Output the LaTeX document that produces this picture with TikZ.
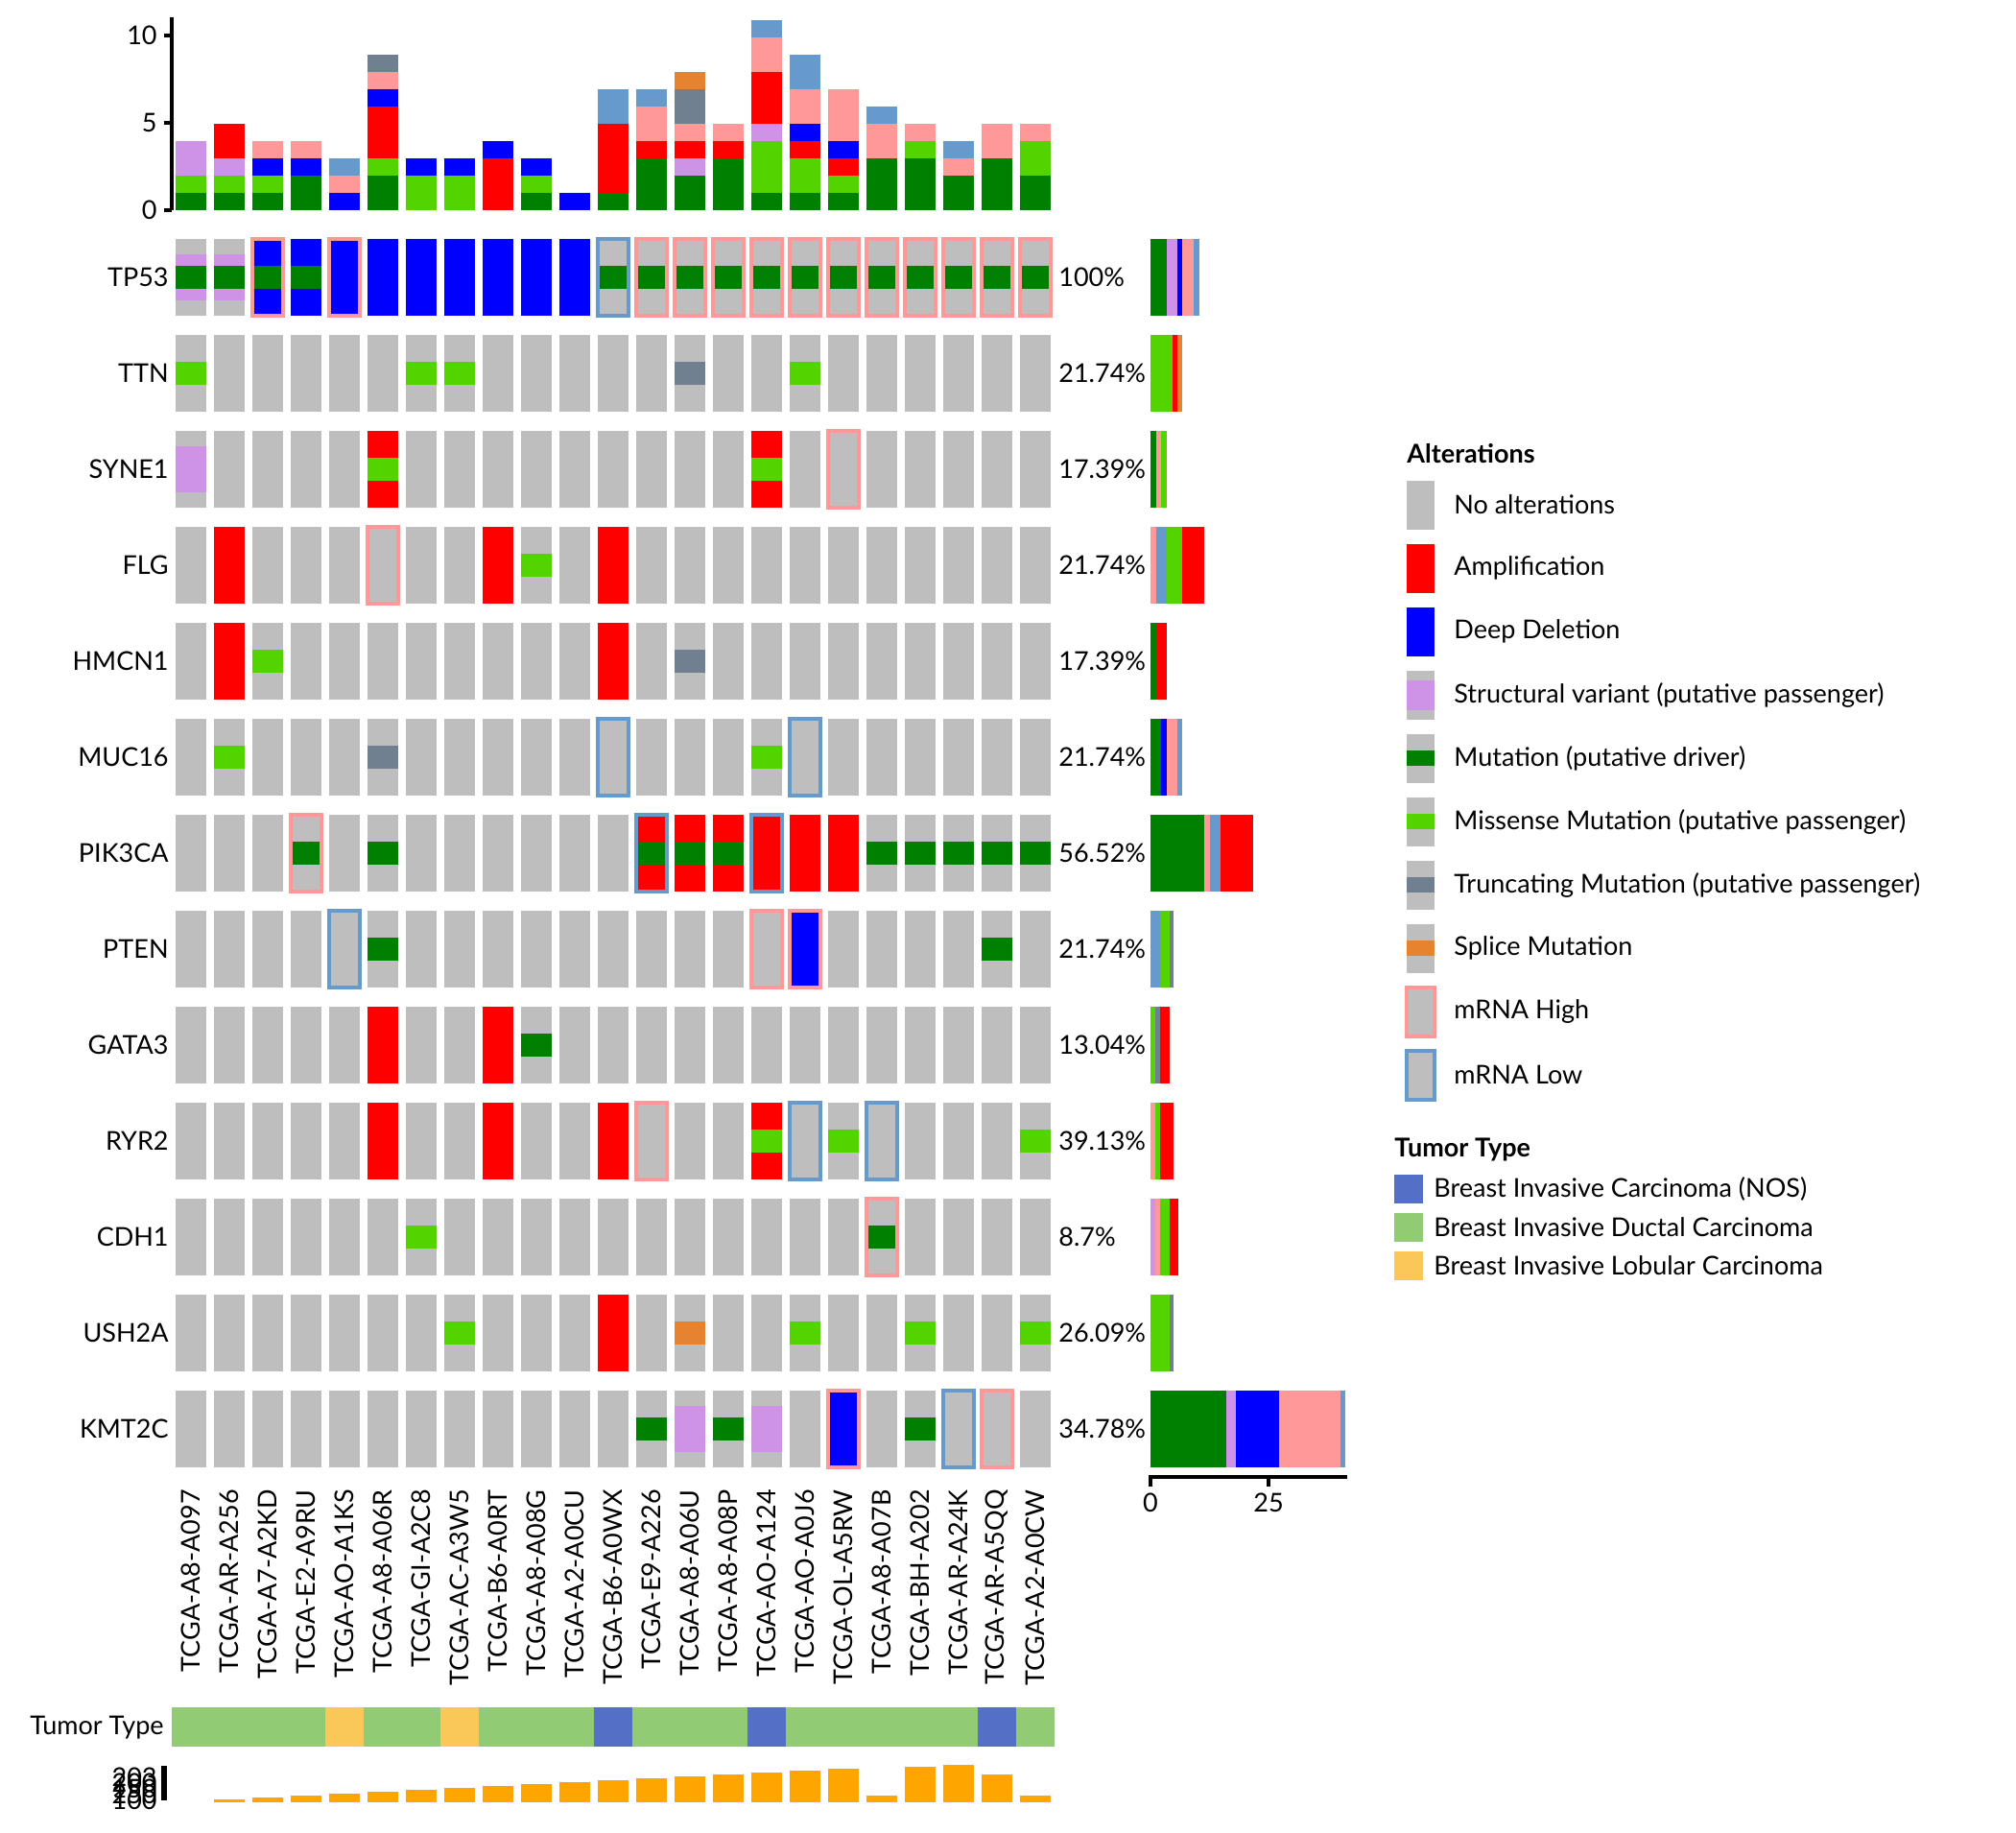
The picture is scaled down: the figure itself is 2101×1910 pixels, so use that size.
\documentclass[tikz,border=0pt]{standalone}
\usepackage{fontspec}
\setmainfont{Lato}
\definecolor{cG}{HTML}{BEBEBE}
\definecolor{cM}{HTML}{008000}
\definecolor{cS}{HTML}{53D400}
\definecolor{cSV}{HTML}{CE93E6}
\definecolor{cA}{HTML}{FF0000}
\definecolor{cD}{HTML}{0000FF}
\definecolor{cH}{HTML}{FF9999}
\definecolor{cL}{HTML}{6699CC}
\definecolor{cT}{HTML}{708090}
\definecolor{cP}{HTML}{E6832E}
\definecolor{tN}{HTML}{5470C6}
\definecolor{tD}{HTML}{91CC75}
\definecolor{tL}{HTML}{FAC858}
\definecolor{cO}{HTML}{FFA500}
\newcommand\stk[2]{\gdef\acc{0}%
 \foreach \cl/\n in {#2}{%
   \fill[fill=c\cl] ({183+40*#1},{219-18*\acc}) rectangle ({215+40*#1},{219-18*(\acc+\n)});
   \pgfmathsetmacro\tmpv{\acc+\n}\xdef\acc{\tmpv}}}
\newcommand\sbar[2]{\gdef\acc{1199}%
 \foreach \cl/\n in {#2}{%
   \fill[fill=c\cl] ({\acc},{249+100*#1}) rectangle ({\acc+0.856*\n},{329+100*#1});
   \pgfmathsetmacro\tmpv{\acc+0.856*\n}\xdef\acc{\tmpv}}}
\tikzset{lab/.style={font=\fontsize{13.5}{16}\selectfont, inner sep=0pt},
 hd/.style={font=\fontsize{13.5}{16}\selectfont\bfseries, inner sep=0pt, anchor=west}}
\begin{document}
\begin{tikzpicture}[x=0.5pt,y=-0.5pt]
\useasboundingbox (0,0) rectangle (2101,1910);
% top bar chart
\stk{0}{M/1,S/1,SV/2}
\stk{1}{M/1,S/1,SV/1,A/2}
\stk{2}{M/1,S/1,D/1,H/1}
\stk{3}{M/2,D/1,H/1}
\stk{4}{D/1,H/1,L/1}
\stk{5}{M/2,S/1,A/3,D/1,H/1,T/1}
\stk{6}{S/2,D/1}
\stk{7}{S/2,D/1}
\stk{8}{A/3,D/1}
\stk{9}{M/1,S/1,D/1}
\stk{10}{D/1}
\stk{11}{M/1,A/4,L/2}
\stk{12}{M/3,A/1,H/2,L/1}
\stk{13}{M/2,SV/1,A/1,H/1,T/2,P/1}
\stk{14}{M/3,A/1,H/1}
\stk{15}{M/1,S/3,SV/1,A/3,H/2,L/1}
\stk{16}{M/1,S/2,A/1,D/1,H/2,L/2}
\stk{17}{M/1,S/1,A/1,D/1,H/3}
\stk{18}{M/3,H/2,L/1}
\stk{19}{M/3,S/1,H/1}
\stk{20}{M/2,H/1,L/1}
\stk{21}{M/3,H/2}
\stk{22}{M/2,S/2,H/1}
\draw[line width=2pt] (179,18) -- (179,219);
\foreach \v/\yy in {0/219,5/128,10/37}{
  \draw[line width=2pt] (171,\yy) -- (179,\yy);
  \node[lab,anchor=east] (ax\v) at (164,\yy) {\v};}
% matrix
\foreach \c in {0,...,22}{\foreach \r in {0,...,12}{
  \fill[cG] ({183+40*\c},{249+100*\r}) rectangle ++(32,80);}}
\foreach \c/\r in {5/2,15/2,1/3,8/3,11/3,1/4,11/4,12/6,13/6,14/6,15/6,16/6,17/6,5/8,8/8,5/9,8/9,11/9,15/9,11/11}
  \fill[cA] ({183+40*\c},{249+100*\r}) rectangle ++(32,80);
\foreach \c/\r in {2/0,3/0,4/0,5/0,6/0,7/0,8/0,9/0,10/0,16/7,17/12}
  \fill[cD] ({183+40*\c},{249+100*\r}) rectangle ++(32,80);
\foreach \c/\r in {0/0,1/0,0/2,13/12,15/12}
  \fill[cSV] ({183+40*\c},{265+100*\r}) rectangle ++(32,48);
\foreach \c/\r in {0/0,1/0,2/0,3/0,11/0,12/0,13/0,14/0,15/0,16/0,17/0,18/0,19/0,20/0,21/0,22/0,3/6,5/6,12/6,13/6,14/6,18/6,19/6,20/6,21/6,22/6,5/7,21/7,9/8,18/10,12/12,14/12,19/12}
  \fill[cM] ({183+40*\c},{277+100*\r}) rectangle ++(32,24);
\foreach \c/\r in {0/1,6/1,7/1,16/1,5/2,15/2,9/3,2/4,1/5,15/5,15/9,17/9,22/9,6/10,7/11,16/11,19/11,22/11}
  \fill[cS] ({183+40*\c},{277+100*\r}) rectangle ++(32,24);
\foreach \c/\r in {13/1,13/4,5/5}
  \fill[cT] ({183+40*\c},{277+100*\r}) rectangle ++(32,24);
\fill[cP] ({183+40*13},{277+100*11}) rectangle ++(32,24);
\foreach \c/\r in {2/0,4/0,12/0,13/0,14/0,15/0,16/0,17/0,18/0,19/0,20/0,21/0,22/0,17/2,5/3,3/6,15/7,16/7,12/9,18/10,17/12,21/12}
  \draw[cH,line width=2pt] ({183+40*\c},{249+100*\r}) rectangle ++(32,80);
\foreach \c/\r in {11/0,11/5,16/5,12/6,15/6,4/7,16/9,18/9,20/12}
  \draw[cL,line width=2pt] ({183+40*\c},{249+100*\r}) rectangle ++(32,80);
% gene labels and percentages
\foreach \g/\p [count=\r from 0] in {TP53/100\%,TTN/21.74\%,SYNE1/17.39\%,FLG/21.74\%,HMCN1/17.39\%,MUC16/21.74\%,PIK3CA/56.52\%,PTEN/21.74\%,GATA3/13.04\%,RYR2/39.13\%,CDH1/8.7\%,USH2A/26.09\%,KMT2C/34.78\%}{
  \node[lab,anchor=east] (g\r) at (176,{289+100*\r}) {\g};
  \node[lab,anchor=west] (p\r) at (1103,{289+100*\r}) {\p};}
% side bars
\sbar{0}{M/20.1,SV/12.1,D/6.7,H/13.4,L/6.7}
\sbar{1}{S/26.8,A/5.4,P/6.7}
\sbar{2}{M/6.7,H/6.7,S/6.7}
\sbar{3}{H/6.7,L/13.4,S/18.8,A/26.8}
\sbar{4}{M/6.7,A/13.4}
\sbar{5}{M/13.4,D/6.7,H/12.1,L/6.7}
\sbar{6}{M/65.6,H/6.7,L/13.4,A/38.8}
\sbar{7}{L/11.9,S/11.9,T/4.7}
\sbar{8}{S/5.9,T/5.9,A/11.9}
\sbar{9}{H/5.9,S/5.9,A/16.6}
\sbar{10}{SV/5.9,H/5.9,S/11.9,A/10.7}
\sbar{11}{S/23.7,T/4.7}
\sbar{12}{M/92.5,SV/11.9,D/52.2,H/74.7,L/5.9}
\draw[line width=2pt] (1199,1549) -- (1199,1539) -- (1404,1539);
\draw[line width=2pt] (1322,1539) -- (1322,1549);
\node[lab,anchor=north] (s0) at (1199,1556) {0};
\node[lab,anchor=north] (s25) at (1322,1556) {25};
% sample labels
\foreach \s [count=\c from 0] in {TCGA-A8-A097,TCGA-AR-A256,TCGA-A7-A2KD,TCGA-E2-A9RU,TCGA-AO-A1KS,TCGA-A8-A06R,TCGA-GI-A2C8,TCGA-AC-A3W5,TCGA-B6-A0RT,TCGA-A8-A08G,TCGA-A2-A0CU,TCGA-B6-A0WX,TCGA-E9-A226,TCGA-A8-A06U,TCGA-A8-A08P,TCGA-AO-A124,TCGA-AO-A0J6,TCGA-OL-A5RW,TCGA-A8-A07B,TCGA-BH-A202,TCGA-AR-A24K,TCGA-AR-A5QQ,TCGA-A2-A0CW}
  \node[lab,anchor=east,rotate=90] (n\c) at ({199+40*\c},1552) {\s};
% tumor type band
\node[lab,anchor=east] (tt) at (171,1800) {Tumor Type};
\foreach \c/\t in {0/D,1/D,2/D,3/D,4/L,5/D,6/D,7/L,8/D,9/D,10/D,11/N,12/D,13/D,14/D,15/N,16/D,17/D,18/D,19/D,20/D,21/N,22/D}
  \fill[t\t] ({179+40*\c},1779) rectangle ++(40,41);
% orange bars
\foreach \c/\h in {1/3,2/5,3/7,4/9,5/11,6/13,7/15,8/17,9/19,10/21,11/23,12/25,13/27,14/29,15/31,16/33,17/35,18/7,19/37,20/39,21/29,22/7}
  \fill[cO] ({183+40*\c},1878) rectangle ++(32,-\h);
\foreach \v/\yy in {100/1876,250/1870,150/1864,200/1858,203/1852}
  \node[lab,anchor=east] (o\v) at (164,\yy) {\v};
\draw[line width=3pt] (171,1840) -- (171,1876);
% legend
\node[hd] (alt) at (1466,473) {Alterations};
\foreach \t/\k [count=\i from 0] in {No alterations/G,Amplification/A,Deep Deletion/D,Structural variant (putative passenger)/SV,Mutation (putative driver)/M,Missense Mutation (putative passenger)/S,Truncating Mutation (putative passenger)/T,Splice Mutation/P,mRNA High/H,mRNA Low/L}{
  \node[lab,anchor=west] (l\i) at (1515,{526+66*\i}) {\t};}
\foreach \i in {0,...,9}{\fill[cG] (1466,{501+66*\i}) rectangle ++(29,51);}
\fill[cA] (1466,{501+66}) rectangle ++(29,51);
\fill[cD] (1466,{501+132}) rectangle ++(29,51);
\fill[cSV] (1466,{511+198}) rectangle ++(29,31);
\fill[cM] (1466,{518+264}) rectangle ++(29,16);
\fill[cS] (1466,{518+330}) rectangle ++(29,16);
\fill[cT] (1466,{518+396}) rectangle ++(29,16);
\fill[cP] (1466,{518+462}) rectangle ++(29,16);
\draw[cH,line width=2pt] (1466,{501+528}) rectangle ++(29,51);
\draw[cL,line width=2pt] (1466,{501+594}) rectangle ++(29,51);
\node[hd] (tth) at (1453,1198) {Tumor Type};
\foreach \t/\k [count=\i from 0] in {Breast Invasive Carcinoma (NOS)/tN,Breast Invasive Ductal Carcinoma/tD,Breast Invasive Lobular Carcinoma/tL}{
  \fill[\k] (1453,{1224+40*\i}) rectangle ++(30,30);
  \node[lab,anchor=west] (tl\i) at (1494,{1239+40*\i}) {\t};}
\end{tikzpicture}
\end{document}
